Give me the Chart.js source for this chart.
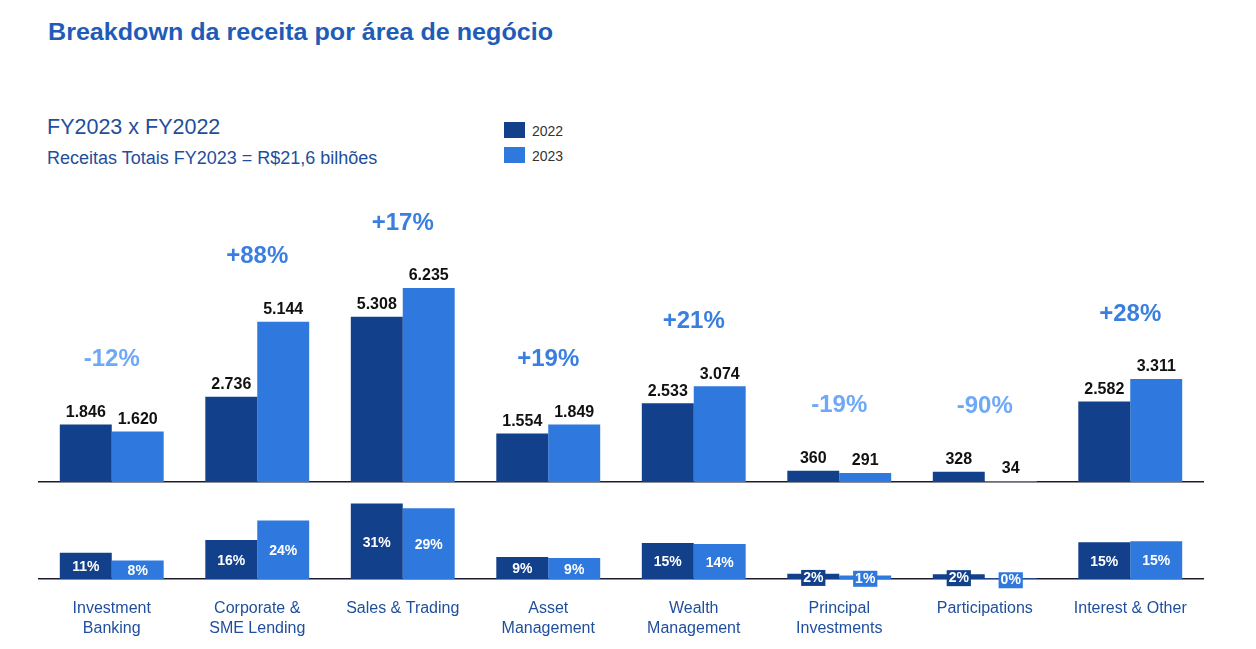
<!DOCTYPE html>
<html><head><meta charset="utf-8">
<script src="https://cdn.jsdelivr.net/npm/chart.js@4.4.1/dist/chart.umd.min.js"></script>
<style>
html,body{margin:0;padding:0;background:#fff;width:1256px;height:649px;overflow:hidden;font-family:"Liberation Sans",Arial,sans-serif;}
.abs{position:absolute;white-space:nowrap;}
canvas{position:absolute;left:0;top:0;}
#title{left:48px;top:20px;font-size:24px;line-height:24px;font-weight:bold;color:#1F5CB8;transform-origin:0 0;}
#fy{left:47px;top:116.8px;font-size:21.5px;line-height:21.5px;color:#1F4E9C;}
#rec{left:47px;top:148.8px;font-size:18px;line-height:18px;color:#1F4E9C;}
.lgsq{position:absolute;left:504px;width:21px;height:16px;}
.lgtx{position:absolute;left:532px;font-size:14px;line-height:14px;color:#333;}
</style></head><body>
<div id="title" class="abs">Breakdown da receita por área de negócio</div>
<div id="fy" class="abs">FY2023 x FY2022</div>
<div id="rec" class="abs">Receitas Totais FY2023 = R$21,6 bilhões</div>
<div class="lgsq" style="top:122px;background:#12408B"></div>
<div class="lgtx" style="top:124px">2022</div>
<div class="lgsq" style="top:147px;background:#2F79DE"></div>
<div class="lgtx" style="top:148.5px">2023</div>
<canvas id="top" width="1256" height="649"></canvas>
<canvas id="bot" width="1256" height="649"></canvas>
<script>
// ---- data ----
const categories = [["Investment","Banking"],["Corporate &","SME Lending"],"Sales & Trading",["Asset","Management"],["Wealth","Management"],["Principal","Investments"],"Participations","Interest & Other"];
const seriesNames = ["2022","2023"];
const revenue2022 = [1846,2736,5308,1554,2533,360,328,2582];
const revenue2023 = [1620,5144,6235,1849,3074,291,34,3311];
const growthLabels = ["-12%","+88%","+17%","+19%","+21%","-19%","-90%","+28%"];
const share2022 = [10.7,15.9,30.8,9.0,14.7,2.1,1.9,15.0];
const share2023 = [7.5,23.9,28.9,8.6,14.3,1.4,0.2,15.4];

// ---- style ----
const DARK = '#12408B', LIGHT = '#2F79DE';
const POS = '#3A7FDF', NEG = '#6EA9F7';
const FONT = '"Liberation Sans", Arial, sans-serif';

// fit title width
(function(){
  const t = document.getElementById('title');
  const w = t.getBoundingClientRect().width;
  t.style.transform = 'scaleX(' + (505 / w) + ')';
})();

function fmt(v){
  if (v >= 1000) return Math.floor(v/1000) + '.' + String(v % 1000).padStart(3,'0');
  return String(v);
}

const topLabels = {
  id:'topLabels',
  afterDatasetsDraw(chart){
    const ctx = chart.ctx;
    ctx.save();
    ctx.textAlign = 'center';
    ctx.textBaseline = 'middle';
    ctx.font = 'bold 16px ' + FONT;
    ctx.fillStyle = '#111111';
    chart.data.datasets.forEach((ds, di) => {
      chart.getDatasetMeta(di).data.forEach((el, i) => {
        ctx.fillText(fmt(ds.data[i]), el.x, el.y - 12);
      });
    });
    const m0 = chart.getDatasetMeta(0).data, m1 = chart.getDatasetMeta(1).data;
    ctx.font = 'bold 24px ' + FONT;
    growthLabels.forEach((g, i) => {
      const x = chart.scales.x.getPixelForValue(i);
      const y = Math.min(m0[i].y, m1[i].y) - 65;
      ctx.fillStyle = g.trim().startsWith('-') ? NEG : POS;
      ctx.fillText(g, x, y);
    });
    ctx.restore();
  }
};

const botLabels = {
  id:'botLabels',
  afterDatasetsDraw(chart){
    const ctx = chart.ctx;
    ctx.save();
    ctx.textAlign = 'center';
    ctx.textBaseline = 'middle';
    ctx.font = 'bold 14px ' + FONT;
    chart.data.datasets.forEach((ds, di) => {
      chart.getDatasetMeta(di).data.forEach((el, i) => {
        const txt = Math.round(ds.data[i]) + '%';
        const h = el.base - el.y;
        const cy = (el.y + el.base) / 2 + 1.5;
        if (h < 18) {
          const w = ctx.measureText(txt).width + 4;
          ctx.fillStyle = ds.backgroundColor;
          ctx.fillRect(el.x - w/2, cy - 8, w, 16);
        }
        ctx.fillStyle = '#ffffff';
        ctx.fillText(txt, el.x, cy);
      });
    });
    ctx.restore();
  }
};

const common = {
  responsive:false, animation:false, events:[],
  plugins:{legend:{display:false}, tooltip:{enabled:false}},
  datasets:{bar:{categoryPercentage:0.714, barPercentage:1}}
};

new Chart(document.getElementById('top'), {
  type:'bar',
  data:{labels:categories, datasets:[
    {label:seriesNames[0], data:revenue2022, backgroundColor:DARK},
    {label:seriesNames[1], data:revenue2023, backgroundColor:LIGHT}
  ]},
  options:Object.assign({}, common, {
    layout:{padding:{left:39, right:53, top:180, bottom:167}},
    scales:{
      x:{grid:{display:false, drawTicks:false}, ticks:{display:false},
         border:{display:true, color:'#1c1c2e', width:1.5},
         afterFit:(s)=>{ s.height = 0; }},
      y:{display:false, min:0, max:9700}
    }
  }),
  plugins:[topLabels]
});

new Chart(document.getElementById('bot'), {
  type:'bar',
  data:{labels:categories, datasets:[
    {label:seriesNames[0], data:share2022, backgroundColor:DARK},
    {label:seriesNames[1], data:share2023, backgroundColor:LIGHT}
  ]},
  options:Object.assign({}, common, {
    layout:{padding:{left:39, right:53, top:490, bottom:0}},
    scales:{
      x:{grid:{display:false, drawTicks:false},
         ticks:{display:true, color:'#1F4E9C', padding:20, maxRotation:0, autoSkip:false,
                font:{family:FONT, size:16, lineHeight:1.22}},
         border:{display:true, color:'#1c1c2e', width:1.5},
         afterFit:(s)=>{ s.height = 70; }},
      y:{display:false, min:0, max:36.3}
    }
  }),
  plugins:[botLabels]
});
</script>
</body></html>
